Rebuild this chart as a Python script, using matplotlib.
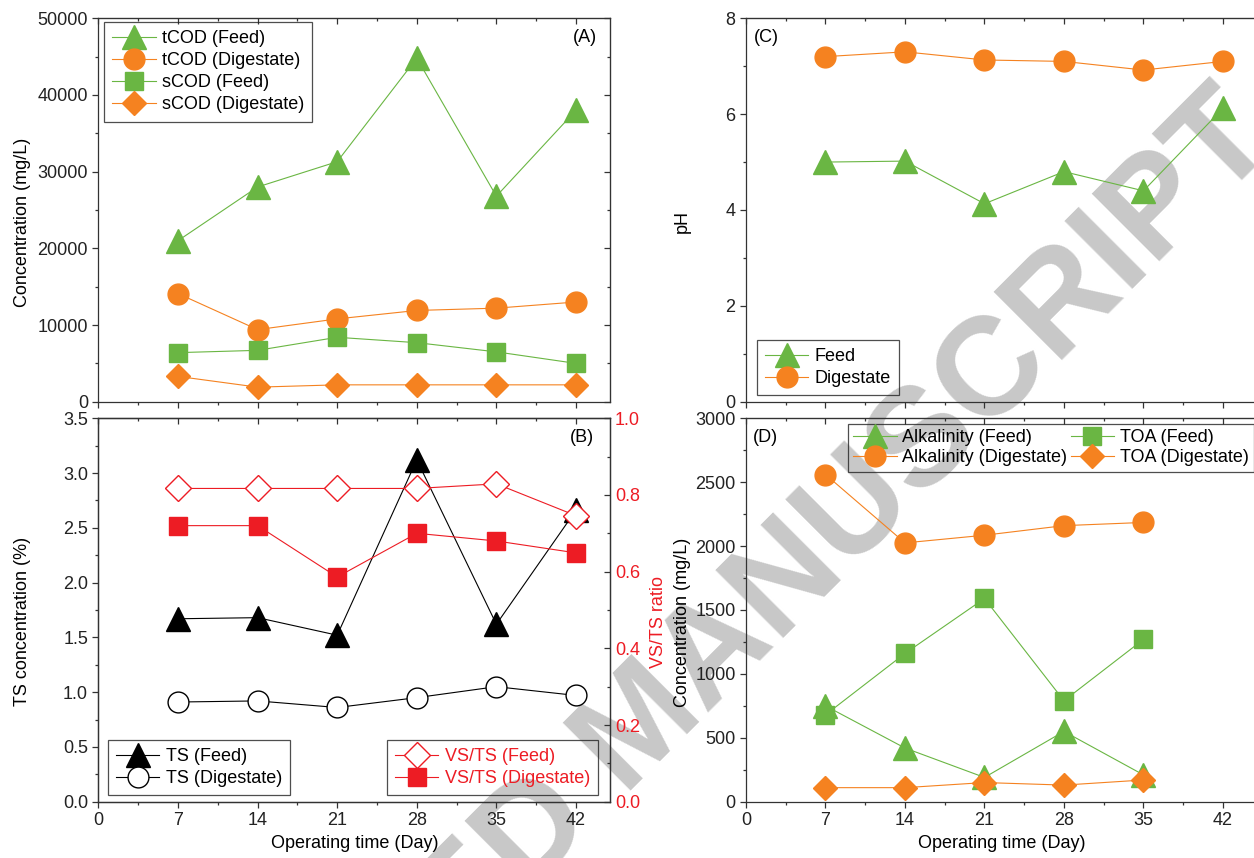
## Import Libraries
import matplotlib
matplotlib.use("Agg")
import matplotlib.pyplot as plt
from matplotlib.ticker import MultipleLocator

plt.rcParams['font.family'] = ['Liberation Sans', 'DejaVu Sans']
plt.rcParams['font.size'] = 13

## Data
days = [7, 14, 21, 28, 35, 42]
days_d = [7, 14, 21, 28, 35]

tcod_feed = [21000, 28000, 31300, 44800, 26800, 38000]
tcod_dig = [14100, 9400, 10800, 11900, 12200, 13000]
scod_feed = [6400, 6700, 8400, 7700, 6500, 5000]
scod_dig = [3300, 1900, 2200, 2200, 2200, 2200]

ts_feed = [1.67, 1.68, 1.52, 3.12, 1.62, 2.66]
ts_dig = [0.91, 0.92, 0.86, 0.95, 1.05, 0.97]
vsts_feed = [0.817, 0.817, 0.817, 0.817, 0.829, 0.746]
vsts_dig = [0.720, 0.720, 0.586, 0.700, 0.680, 0.649]

ph_feed = [5.0, 5.02, 4.13, 4.8, 4.4, 6.12]
ph_dig = [7.2, 7.3, 7.13, 7.1, 6.92, 7.1]

alk_feed = [750, 420, 190, 550, 210]
alk_dig = [2560, 2025, 2085, 2160, 2185]
toa_feed = [680, 1160, 1590, 790, 1270]
toa_dig = [110, 110, 150, 130, 170]

xticks = [0, 7, 14, 21, 28, 35, 42]

## Colours
green = '#6ab643'
orange = '#f58220'
red = '#ed1c24'
spine_col = '#333333'

fig = plt.figure(figsize=(12.54, 8.58), dpi=100)

## watermark behind everything
fig.text(0.5327, 0.1224, "ACCEPTED MANUSCRIPT", fontsize=100, fontweight='bold',
         color='#c8c8c8', rotation=45, rotation_mode='anchor',
         ha='center', va='baseline', zorder=-5)

ax_a = fig.add_axes([0.0785, 0.5318, 0.408, 0.4469])
ax_b = fig.add_axes([0.0785, 0.0656, 0.408, 0.4469])
ax_c = fig.add_axes([0.5949, 0.5318, 0.4075, 0.4469])
ax_d = fig.add_axes([0.5949, 0.0656, 0.4075, 0.4469])

leg_kw = dict(borderaxespad=0, fancybox=False, handlelength=2.4, handletextpad=0.35,
              labelspacing=0.28, borderpad=0.45)


def inward(axis_obj):
    axis_obj.tick_params(which='both', direction='in', width=0.9, color=spine_col,
                         labeltop=False, labelright=False)
    axis_obj.tick_params(which='major', length=4)
    axis_obj.tick_params(which='minor', length=2.5)


def style_axis(ax, ymax, ymaj, ymin, show_x, right_ticks=False):
    ax.set_facecolor('none')
    ax.set_xlim(0, 45)
    ax.set_ylim(0, ymax)
    ax.set_xticks(xticks)
    ax.xaxis.set_minor_locator(MultipleLocator(3.5))
    ax.yaxis.set_major_locator(MultipleLocator(ymaj))
    ax.yaxis.set_minor_locator(MultipleLocator(ymin))
    for s in ax.spines.values():
        s.set_linewidth(0.9)
        s.set_color(spine_col)
    ax.tick_params(which='both', direction='out', top=False, right=False,
                   width=0.9, color=spine_col, labelcolor='#222222')
    ax.tick_params(which='major', length=4)
    ax.tick_params(which='minor', length=2.5)
    if not show_x:
        ax.tick_params(axis='x', which='both', labelbottom=False)
    # top ticks point inward
    sec = ax.secondary_xaxis('top')
    sec.set_xticks(xticks)
    sec.xaxis.set_minor_locator(MultipleLocator(3.5))
    inward(sec)
    if right_ticks:
        sec_y = ax.secondary_yaxis('right')
        sec_y.yaxis.set_major_locator(MultipleLocator(ymaj))
        sec_y.yaxis.set_minor_locator(MultipleLocator(ymin))
        inward(sec_y)


def frame(leg):
    leg.get_frame().set_edgecolor('#222222')
    leg.get_frame().set_linewidth(0.9)
    leg.get_frame().set_facecolor('none')


## (A) COD
style_axis(ax_a, 50000, 10000, 5000, False, right_ticks=True)
ax_a.plot(days, tcod_feed, color=green, lw=0.8, marker='^', ms=17, label='tCOD (Feed)')
ax_a.plot(days, tcod_dig, color=orange, lw=0.8, marker='o', ms=15, label='tCOD (Digestate)')
ax_a.plot(days, scod_feed, color=green, lw=0.8, marker='s', ms=13, label='sCOD (Feed)')
ax_a.plot(days, scod_dig, color=orange, lw=0.8, marker='D', ms=12, label='sCOD (Digestate)')
ax_a.set_ylabel('Concentration (mg/L)')
ax_a.yaxis.set_label_coords(-0.132, 0.469)
ax_a.text(0.951, 0.949, '(A)', transform=ax_a.transAxes, ha='center', va='center')
leg = ax_a.legend(loc='upper left', bbox_to_anchor=(0.011, 0.990), **leg_kw)
frame(leg)

## (B) TS and VS/TS
style_axis(ax_b, 3.5, 0.5, 0.25, True)
l1, = ax_b.plot(days, ts_feed, color='black', lw=0.8, marker='^', ms=17, label='TS (Feed)')
l2, = ax_b.plot(days, ts_dig, color='black', lw=0.8, marker='o', ms=15, mfc='white',
                mew=1.0, label='TS (Digestate)')
ax_b.set_ylabel('TS concentration (%)')
ax_b.yaxis.set_label_coords(-0.132, 0.469)
ax_b.set_xlabel('Operating time (Day)')
ax_b.text(0.945, 0.949, '(B)', transform=ax_b.transAxes, ha='center', va='center')

ax_b2 = ax_b.twinx()
ax_b2.set_ylim(0, 1.0)
ax_b2.yaxis.set_major_locator(MultipleLocator(0.2))
ax_b2.yaxis.set_minor_locator(MultipleLocator(0.1))
ax_b2.tick_params(which='both', direction='in', width=0.9, color=spine_col, labelcolor=red)
ax_b2.tick_params(which='major', length=4)
ax_b2.tick_params(which='minor', length=2.5)
for s in ax_b2.spines.values():
    s.set_linewidth(0.9)
    s.set_color(spine_col)
l3, = ax_b2.plot(days, vsts_feed, color=red, lw=0.8, marker='D', ms=13, mfc='white',
                 mew=1.0, label='VS/TS (Feed)')
l4, = ax_b2.plot(days, vsts_dig, color=red, lw=0.8, marker='s', ms=13, label='VS/TS (Digestate)')
ax_b2.set_ylabel('VS/TS ratio', color=red)
ax_b2.yaxis.set_label_coords(1.078, 0.469)

leg1 = ax_b.legend(handles=[l1, l2], loc='lower left', bbox_to_anchor=(0.0186, 0.0175), **leg_kw)
frame(leg1)
leg2 = ax_b2.legend(handles=[l3, l4], loc='lower right', bbox_to_anchor=(0.9765, 0.0175),
                    labelcolor=red, **leg_kw)
frame(leg2)

## (C) pH
style_axis(ax_c, 8, 2, 1, False)
ax_c.plot(days, ph_feed, color=green, lw=0.8, marker='^', ms=17, label='Feed')
ax_c.plot(days, ph_dig, color=orange, lw=0.8, marker='o', ms=15, label='Digestate')
ax_c.set_ylabel('pH')
ax_c.yaxis.set_label_coords(-0.108, 0.469)
ax_c.text(0.039, 0.949, '(C)', transform=ax_c.transAxes, ha='center', va='center')
leg = ax_c.legend(loc='lower left', bbox_to_anchor=(0.0215, 0.0175), **leg_kw)
frame(leg)

## (D) Alkalinity and TOA
style_axis(ax_d, 3000, 500, 250, True)
ax_d.plot(days_d, alk_feed, color=green, lw=0.8, marker='^', ms=17, label='Alkalinity (Feed)')
ax_d.plot(days_d, alk_dig, color=orange, lw=0.8, marker='o', ms=15, label='Alkalinity (Digestate)')
ax_d.plot(days_d, toa_feed, color=green, lw=0.8, marker='s', ms=13, label='TOA (Feed)')
ax_d.plot(days_d, toa_dig, color=orange, lw=0.8, marker='D', ms=12, label='TOA (Digestate)')
ax_d.set_ylabel('Concentration (mg/L)')
ax_d.yaxis.set_label_coords(-0.108, 0.469)
ax_d.set_xlabel('Operating time (Day)')
ax_d.text(0.039, 0.951, '(D)', transform=ax_d.transAxes, ha='center', va='center')
d_kw = dict(leg_kw)
d_kw.update(labelspacing=0.15, borderpad=0.3, handletextpad=0.3)
leg = ax_d.legend(loc='upper left', bbox_to_anchor=(0.1996, 0.985), ncol=2,
                  columnspacing=0.2, **d_kw)
frame(leg)

plt.savefig('out.png', dpi=100)
